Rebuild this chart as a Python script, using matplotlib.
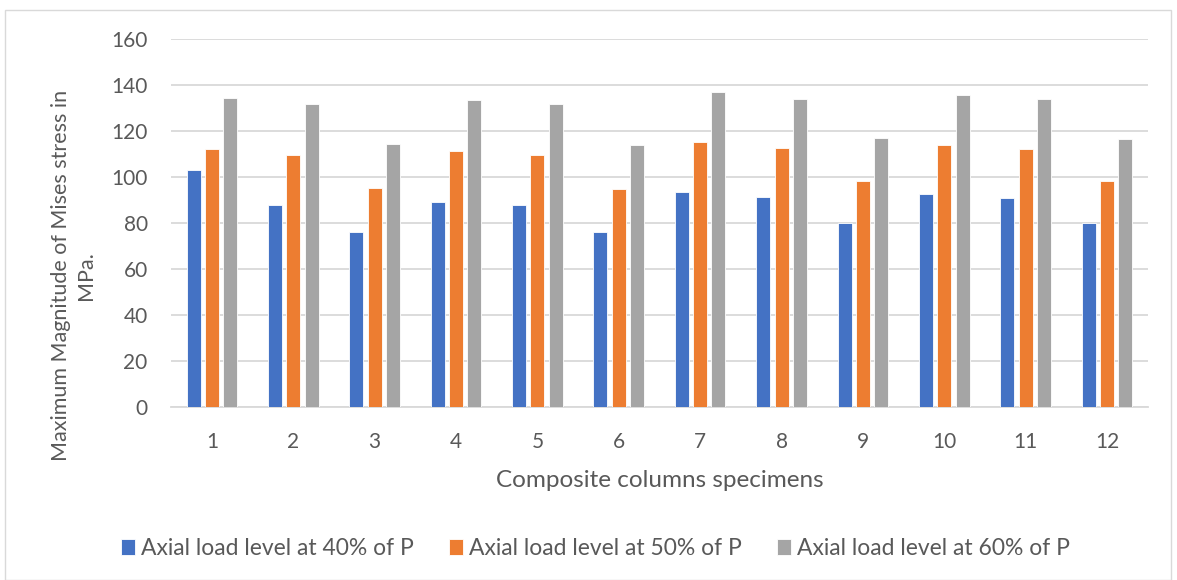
import matplotlib
matplotlib.use("Agg")
import matplotlib.pyplot as plt
import numpy as np
from matplotlib.patches import Rectangle

specimens = ["1", "2", "3", "4", "5", "6", "7", "8", "9", "10", "11", "12"]
load_40 = [102.8, 87.6, 76.1, 88.9, 87.6, 76.0, 93.2, 91.3, 80.0, 92.5, 91.0, 79.7]
load_50 = [112.1, 109.6, 95.1, 111.2, 109.5, 94.9, 115.0, 112.5, 98.3, 114.0, 112.2, 98.0]
load_60 = [134.4, 131.7, 114.2, 133.4, 131.7, 113.9, 136.9, 134.1, 116.7, 135.8, 133.7, 116.4]
series_labels = ["Axial load level at 40% of P",
                 "Axial load level at 50% of P",
                 "Axial load level at 60% of P"]
colors = ["#4472C4", "#ED7D31", "#A5A5A5"]

plt.rcParams['font.family'] = ['Lato', 'DejaVu Sans']
text_color = "#595959"
grid_color = "#D9D9D9"

fig = plt.figure(figsize=(11.77, 5.80), dpi=100)
ax = fig.add_axes([0.1455, 0.2991, 0.8296, 0.6336])

x = np.arange(len(specimens))
width = 0.172
step = 0.225
for i, (vals, lab, col) in enumerate(zip([load_40, load_50, load_60], series_labels, colors)):
    ax.bar(x + (i - 1) * step, vals, width, color=col, label=lab,
           edgecolor="white", linewidth=0.6, zorder=3)

ax.set_xlim(-0.5, len(specimens) - 0.5)
ax.set_ylim(0, 160)
ax.set_yticks(np.arange(0, 161, 20))
ax.set_xticks(x)
ax.set_xticklabels(specimens)
ax.yaxis.grid(True, color=grid_color, linewidth=1.3, zorder=0)
ax.set_axisbelow(True)
for s in ["top", "right", "left"]:
    ax.spines[s].set_visible(False)
ax.spines["bottom"].set_color(grid_color)
ax.spines["bottom"].set_linewidth(1.3)
ax.tick_params(axis="both", length=0, labelsize=15, colors=text_color)
ax.tick_params(axis="x", pad=18)
ax.tick_params(axis="y", pad=17)

ax.set_xlabel("Composite columns specimens", fontsize=17.5, color=text_color, labelpad=13)
fig.text(0.0625, 0.5245, "Maximum Magnitude of Mises stress in\nMPa.", rotation=90,
         ha="center", va="center", fontsize=15.5, color=text_color, linespacing=1.35)

leg = fig.legend(loc="center", bbox_to_anchor=(0.506, 0.055), ncol=3, frameon=False,
                 fontsize=16.5, labelcolor=text_color, handlelength=0.6, handleheight=0.7,
                 handletextpad=0.25, columnspacing=1.55)

fig.patches.append(Rectangle((5 / 1177, 0.0), 1166 / 1177, 570 / 580,
                             transform=fig.transFigure, fill=False,
                             edgecolor=grid_color, linewidth=1.0))

fig.savefig("out.png", dpi=100)
